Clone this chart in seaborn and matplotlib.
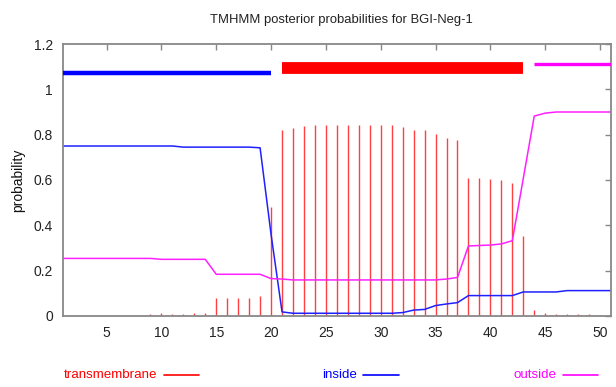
import pandas as pd
import matplotlib
matplotlib.use("Agg")
import matplotlib.pyplot as plt
import seaborn as sns
from matplotlib.lines import Line2D
from matplotlib.ticker import FuncFormatter

# TMHMM posterior probabilities per residue
positions = list(range(1, 52))
transmembrane = [0, 0, 0, 0, 0, 0, 0, 0,
                 0.010, 0.012, 0.008, 0.008, 0.012, 0.015,
                 0.081, 0.080, 0.080, 0.080, 0.088,
                 0.482,
                 0.820, 0.831, 0.838, 0.841, 0.841, 0.841, 0.841, 0.841, 0.841,
                 0.841, 0.841, 0.835, 0.820, 0.820, 0.801, 0.787, 0.778,
                 0.607, 0.607, 0.603, 0.598, 0.588,
                 0.354,
                 0.025, 0.015, 0.010, 0.010, 0.010, 0.010, 0.005, 0]
inside = [0.750] * 11 + [0.745] * 7 + [0.742, 0.360, 0.018] + [0.012] * 10 + \
         [0.015, 0.026, 0.029, 0.046, 0.053, 0.059] + [0.090] * 5 + \
         [0.106] * 4 + [0.112] * 5
outside = [0.254] * 9 + [0.250] * 5 + [0.184] * 5 + [0.165, 0.163] + [0.159] * 14 + \
          [0.163, 0.170, 0.309, 0.311, 0.313, 0.318, 0.332, 0.607, 0.882, 0.895] + [0.900] * 6

# predicted topology (start, end)
inside_seg = (1, 20)
tm_seg = (21, 43)
outside_seg = (44, 51)

sns.set_theme(style="white")
plt.rcParams['font.family'] = ['Liberation Sans', 'DejaVu Sans']

fig = plt.figure(figsize=(6.16, 3.87), dpi=100)
ax = fig.add_axes([0.1018, 0.1835, 0.8901, 0.7028])

df = pd.DataFrame({'position': positions, 'inside': inside, 'outside': outside})
long_df = df.melt(id_vars='position', var_name='state', value_name='probability')

ax.vlines(positions, 0, transmembrane, color='#ff4040', lw=1.0, zorder=1)
sns.lineplot(data=long_df, x='position', y='probability', hue='state',
             palette={'inside': '#2020ff', 'outside': '#ff20ff'},
             legend=False, lw=1.1, ax=ax, zorder=2)

# topology bars
ax.hlines(1.071, *inside_seg, color='#0000ff', lw=3.2, zorder=3)
ax.hlines(1.093, *tm_seg, color='#ff0000', lw=8.5, zorder=3)
ax.hlines(1.111, *outside_seg, color='#ff00ff', lw=2.4, zorder=3)

ax.set_xlim(1, 51)
ax.set_ylim(0, 1.2)
ax.set_xticks(range(5, 51, 5))
ax.set_yticks([0, 0.2, 0.4, 0.6, 0.8, 1.0, 1.2])
ax.yaxis.set_major_formatter(FuncFormatter(lambda v, p: f"{v:g}"))
ax.set_xlabel('')
ax.set_ylabel('probability', fontsize=10, color='#111111', labelpad=6)
ax.tick_params(direction='in', length=4, width=1, color='#888888',
               top=True, right=True, labelsize=10, labelcolor='#222222', pad=7)
for s in ax.spines.values():
    s.set_color('#888888')
    s.set_linewidth(1.3)

fig.text(0.554, 0.948, 'TMHMM posterior probabilities for BGI-Neg-1',
         ha='center', va='center', fontsize=9.4, color='#222222')

# legend row under the axes
legend_items = [('transmembrane', '#ff0000', 64, 164, 199),
                ('inside', '#0000ff', 322, 363, 399),
                ('outside', '#ff00ff', 513, 563, 598)]
y_leg = 1 - 375 / 387
for label, col, tx, x0, x1 in legend_items:
    fig.text(tx / 616, y_leg, label, color=col, fontsize=9.6, ha='left', va='center')
    fig.add_artist(Line2D([x0 / 616, x1 / 616], [y_leg, y_leg], color=col, lw=1.2,
                          transform=fig.transFigure))

fig.savefig('out.png', dpi=100)
